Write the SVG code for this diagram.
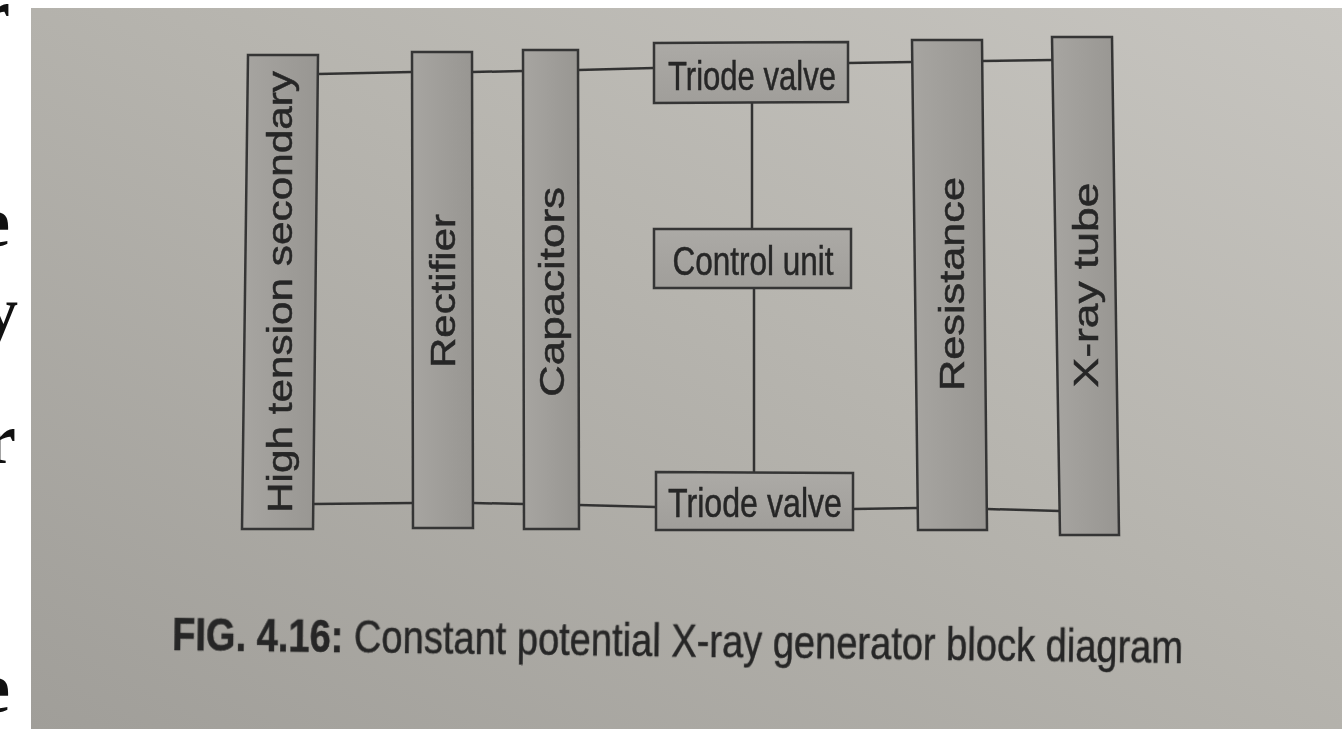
<svg xmlns="http://www.w3.org/2000/svg" width="1342" height="733" viewBox="0 0 1342 733">
  <defs>
    <linearGradient id="paper" x1="1" y1="0" x2="0" y2="1">
      <stop offset="0" stop-color="#c7c5c0"/>
      <stop offset="0.45" stop-color="#b6b4ae"/>
      <stop offset="1" stop-color="#a09e99"/>
    </linearGradient>
    <linearGradient id="fillV" x1="0" y1="0" x2="1" y2="0">
      <stop offset="0" stop-color="#a7a5a1"/>
      <stop offset="1" stop-color="#989692"/>
    </linearGradient>
    <linearGradient id="fillH" x1="0" y1="0" x2="0" y2="1">
      <stop offset="0" stop-color="#acaaa6"/>
      <stop offset="1" stop-color="#a09e9a"/>
    </linearGradient>
    <filter id="soft" x="-2%" y="-2%" width="104%" height="104%">
      <feGaussianBlur stdDeviation="0.6"/>
    </filter>
  </defs>
  <style>
    .blkV { fill: url(#fillV); stroke: #353535; stroke-width: 2.5; stroke-linejoin: miter; }
    .blkH { fill: url(#fillH); stroke: #353535; stroke-width: 2.5; }
    .wire { fill: none; stroke: #333333; stroke-width: 2.5; }
    .lbl { font-family: "Liberation Sans", Arial, sans-serif; fill: #262626; stroke: #262626; stroke-width: 0.5; }
    .vlbl { font-size: 35px; text-anchor: middle; }
    .hlbl { font-size: 40px; text-anchor: middle; }
    .cap { font-size: 47px; }
    .frag { font-family: "Liberation Serif", "Times New Roman", serif; font-size: 72px; font-weight: bold; fill: #111; }
  </style>

  <!-- page margin with cut-off letters from the facing page -->
  <rect x="0" y="0" width="1342" height="733" fill="#ffffff"/>
  <text class="frag" x="-22" y="38">r</text>
  <text class="frag" x="-22" y="246">e</text>
  <text class="frag" x="-18" y="336">y</text>
  <text class="frag" x="-16" y="463">r</text>
  <text class="frag" x="-22" y="712">e</text>

  <!-- printed page -->
  <rect x="31" y="8" width="1311" height="721" fill="url(#paper)"/>

  <g filter="url(#soft)">
    <!-- wiring between the blocks -->
    <g id="connectors">
      <!-- upper rail -->
      <line class="wire" x1="318" y1="74" x2="412" y2="72"/>
      <line class="wire" x1="472" y1="72" x2="523" y2="71"/>
      <line class="wire" x1="578" y1="70" x2="654" y2="68"/>
      <line class="wire" x1="848" y1="63" x2="912" y2="62"/>
      <line class="wire" x1="982" y1="61" x2="1052" y2="60"/>
      <!-- lower rail -->
      <line class="wire" x1="313" y1="504" x2="413" y2="503"/>
      <line class="wire" x1="473" y1="503" x2="524" y2="504"/>
      <line class="wire" x1="579" y1="505" x2="656" y2="507"/>
      <line class="wire" x1="853" y1="509" x2="918" y2="508"/>
      <line class="wire" x1="987" y1="509" x2="1060" y2="511"/>
      <!-- control unit links -->
      <line class="wire" x1="752" y1="103" x2="752" y2="229"/>
      <line class="wire" x1="754" y1="288" x2="754" y2="472"/>
    </g>

    <g id="high-tension-secondary">
      <polygon class="blkV" points="248,55 318,55 313,529 242,529"/>
      <text class="lbl vlbl" x="279" y="292" dy="12.5" textLength="442" lengthAdjust="spacingAndGlyphs" transform="rotate(-90 279 292)">High tension secondary</text>
    </g>

    <g id="rectifier">
      <polygon class="blkV" points="412,52 472,52 473,528 413,528"/>
      <text class="lbl vlbl" x="442" y="291" dy="12.5" textLength="154" lengthAdjust="spacingAndGlyphs" transform="rotate(-90 442 291)">Rectifier</text>
    </g>

    <g id="capacitors">
      <polygon class="blkV" points="523,50 578,50 579,529 524,529"/>
      <text class="lbl vlbl" x="551" y="292" dy="12.5" textLength="210" lengthAdjust="spacingAndGlyphs" transform="rotate(-90 551 292)">Capacitors</text>
    </g>

    <g id="triode-valve-upper">
      <polygon class="blkH" points="654,43 848,42 848,102 654,103"/>
      <text class="lbl hlbl" x="752" y="90" textLength="168" lengthAdjust="spacingAndGlyphs">Triode valve</text>
    </g>

    <g id="control-unit">
      <polygon class="blkH" points="654,229 851,229 851,288 654,288"/>
      <text class="lbl hlbl" x="753" y="275" textLength="161" lengthAdjust="spacingAndGlyphs">Control unit</text>
    </g>

    <g id="triode-valve-lower">
      <polygon class="blkH" points="656,472 853,473 853,530 656,530"/>
      <text class="lbl hlbl" x="755" y="517" font-size="41" textLength="174" lengthAdjust="spacingAndGlyphs">Triode valve</text>
    </g>

    <g id="resistance">
      <polygon class="blkV" points="912,40 982,40 987,530 918,530"/>
      <text class="lbl vlbl" x="951" y="284" dy="12.5" textLength="214" lengthAdjust="spacingAndGlyphs" transform="rotate(-90 951 284)">Resistance</text>
    </g>

    <g id="x-ray-tube">
      <polygon class="blkV" points="1052,37 1112,37 1119,535 1060,535"/>
      <text class="lbl vlbl" x="1085" y="285" dy="12.5" textLength="205" lengthAdjust="spacingAndGlyphs" transform="rotate(-90 1085 285)">X-ray tube</text>
    </g>

    <!-- figure caption -->
    <text class="lbl cap" x="172" y="650" textLength="1011" lengthAdjust="spacingAndGlyphs" transform="rotate(0.74 172 650)"><tspan font-weight="bold">FIG. 4.16:</tspan> Constant potential X-ray generator block diagram</text>
  </g>
</svg>
